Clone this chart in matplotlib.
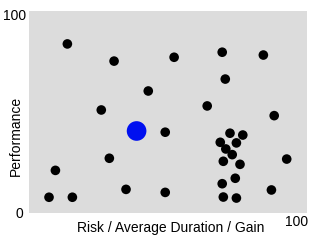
import matplotlib
matplotlib.use("Agg")
import matplotlib.pyplot as plt

plt.rcParams['font.family'] = ['Liberation Sans', 'DejaVu Sans']

# data
x_vals = [13.8, 30.6, 42.9, 26.0, 52.2, 69.5, 84.3, 70.6, 64.1, 88.2,
          28.9, 9.5, 7.2, 15.6, 34.9, 49.0, 72.3, 76.9, 68.8, 74.6,
          70.8, 73.1, 69.9, 75.9, 92.7, 74.2, 69.5, 49.0, 87.2, 69.9, 74.6]
y_vals = [83.7, 75.2, 60.4, 51.0, 77.1, 79.6, 78.2, 66.3, 53.0, 48.2,
          27.1, 21.1, 7.8, 7.8, 11.7, 40.0, 39.5, 38.6, 35.0, 34.7,
          31.7, 28.9, 25.6, 24.1, 26.7, 17.2, 14.5, 10.2, 11.4, 7.9, 7.4]
hi_x = [38.7]
hi_y = [40.6]
x_label = "Risk / Average Duration / Gain"
y_label = "Performance"

fig = plt.figure(figsize=(3.2, 2.4), dpi=100)
ax = fig.add_axes([29/320, 1 - 213/240, 278/320, 202/240])
ax.set_facecolor('#dcdcdc')
ax.set_xlim(0, 100)
ax.set_ylim(0, 100)
for s in ax.spines.values():
    s.set_visible(False)
ax.set_xticks([])
ax.set_yticks([])

ax.scatter(x_vals, y_vals, s=48, c='#000000', edgecolors='none', zorder=3)
ax.scatter(hi_x, hi_y, s=200, c='#0010f0', edgecolors='none', zorder=4)

fs = 10
ax.text(-1.1, 97.5, "100", ha='right', va='center', fontsize=fs, clip_on=False)
ax.text(-2.2, -0.5, "0", ha='right', va='center', fontsize=fs, clip_on=False)
ax.text(100.4, -4.5, "100", ha='right', va='center', fontsize=fs, clip_on=False)
ax.text(50.9, -7.4, x_label, ha='center', va='center', fontsize=fs, clip_on=False)
ax.text(-4.7, 38.1, y_label, ha='center', va='center', rotation=90, fontsize=fs, clip_on=False)

fig.savefig("out.png", dpi=100)
